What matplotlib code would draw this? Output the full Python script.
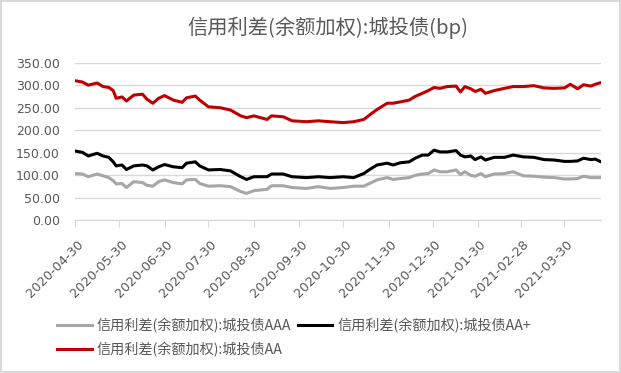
import numpy as np
import matplotlib
matplotlib.use("Agg")
import matplotlib.pyplot as plt
import matplotlib.transforms as mtransforms

plt.rcParams['font.family'] = ['Noto Sans CJK SC', 'DejaVu Sans']

start = np.datetime64('2020-04-30')
days = [0, 5, 9, 15, 19, 23, 26, 28, 32, 35, 40, 46, 49, 53, 57, 61, 67, 73, 76, 82,
        85, 91, 99, 106, 113, 117, 122, 131, 134, 142, 148, 158, 166, 174, 183, 190,
        197, 201, 206, 213, 217, 222, 228, 232, 237, 241, 245, 249, 254, 260, 263,
        266, 270, 273, 277, 280, 286, 293, 299, 306, 313, 320, 327, 334, 338, 343,
        347, 352, 355, 359]
aa = [310, 307, 300, 305, 297, 295, 288, 271, 274, 265, 278, 280, 269, 260, 271, 277,
      267, 262, 272, 276, 267, 252, 250, 245, 232, 228, 232, 224, 232, 230, 221, 219,
      221, 219, 217, 219, 224, 234, 246, 260, 260, 263, 267, 275, 282, 288, 295, 293,
      297, 298, 285, 297, 292, 286, 291, 282, 288, 293, 297, 297, 299, 294, 293, 294,
      302, 292, 301, 298, 302, 306]
aa_plus = [154, 151, 143, 149, 143, 140, 130, 121, 123, 113, 121, 123, 121, 112, 119,
           124, 119, 117, 127, 130, 121, 112, 113, 110, 97, 91, 97, 97, 103, 103, 97, 95,
           97, 95, 97, 95, 104, 113, 123, 127, 123, 128, 130, 138, 145, 145, 156, 152,
           152, 155, 145, 141, 143, 135, 141, 134, 140, 140, 145, 141, 140, 135, 134,
           131, 131, 132, 138, 135, 136, 130]
aaa = [104, 103, 97, 103, 99, 95, 88, 81, 82, 73, 86, 84, 78, 76, 86, 90, 84, 81, 90,
       91, 82, 76, 77, 75, 64, 60, 66, 69, 77, 77, 73, 71, 75, 71, 73, 76, 76, 82, 90,
       95, 91, 93, 95, 100, 103, 104, 112, 108, 108, 112, 102, 108, 100, 98, 104, 97,
       103, 104, 108, 99, 98, 96, 95, 92, 92, 93, 98, 95, 95, 95]
tick_dates = ['2020-04-30', '2020-05-30', '2020-06-30', '2020-07-30', '2020-08-30',
              '2020-09-30', '2020-10-30', '2020-11-30', '2020-12-30', '2021-01-30',
              '2021-02-28', '2021-03-30']
labels = ['信用利差(余额加权):城投债AAA', '信用利差(余额加权):城投债AA+',
          '信用利差(余额加权):城投债AA']
title = '信用利差(余额加权):城投债(bp)'

dates = start + np.array(days).astype('timedelta64[D]')
ticks = np.array(tick_dates, dtype='datetime64[D]')

fig = plt.figure(figsize=(6.21, 3.73), dpi=100)
fig.patch.set_edgecolor('#d9d9d9')
fig.patch.set_linewidth(1.5)
ax = fig.add_axes([0.121, 0.409, 0.847, 0.423])

l1, = ax.plot(dates, aaa, color='#a6a6a6', lw=2.2)
l2, = ax.plot(dates, aa_plus, color='#000000', lw=2.2)
l3, = ax.plot(dates, aa, color='#c00000', lw=2.2)

ax.set_ylim(0, 350)
ax.set_yticks(np.arange(0, 351, 50))
ax.set_yticklabels(['%.2f' % v for v in np.arange(0, 351, 50)])
ax.set_xlim(start, start + np.timedelta64(359, 'D'))
ax.set_xticks(ticks)
ax.set_xticklabels(tick_dates, rotation=45, ha='right', va='center',
                   rotation_mode='anchor')
ax.grid(axis='y', color='#d9d9d9', lw=1)
ax.set_axisbelow(True)
for s in ['left', 'right', 'top']:
    ax.spines[s].set_visible(False)
ax.spines['bottom'].set_color('#d9d9d9')
ax.tick_params(axis='y', length=0, labelsize=9, labelcolor='#595959', pad=11)
ax.tick_params(axis='x', length=5, color='#d9d9d9', labelsize=9.3,
               labelcolor='#595959', pad=11)
shift = mtransforms.ScaledTranslation(6 / 100, 0, fig.dpi_scale_trans)
for t in ax.get_xticklabels():
    t.set_transform(t.get_transform() + shift)
for t in ax.get_yticklabels() + ax.get_xticklabels():
    t.set_family('DejaVu Sans')

fig.text(0.528, 0.925, title, ha='center', va='center', fontsize=14.6, color='#595959')

fig.legend([l1, l3, l2], [labels[0], labels[2], labels[1]], ncol=2,
           loc='upper left', bbox_to_anchor=(0.092, 0.149), frameon=False,
           fontsize=10.2, labelcolor='#595959', handlelength=2.45, handletextpad=0.35,
           columnspacing=0.45, labelspacing=0.62, borderaxespad=0, borderpad=0)

fig.savefig('out.png', dpi=100)
